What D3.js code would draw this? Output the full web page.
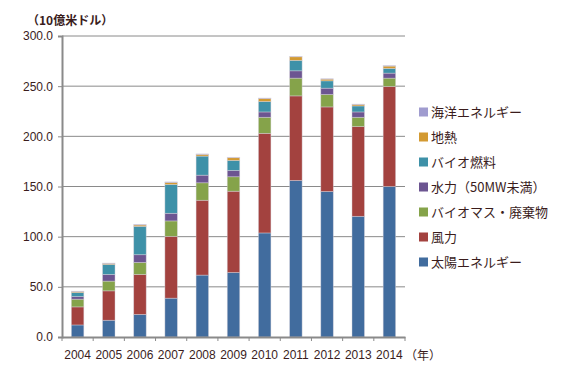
<!DOCTYPE html>
<html>
<head>
<meta charset="utf-8">
<script src="https://cdn.jsdelivr.net/npm/d3@7"></script>
<style>
  body { margin: 0; background: #fff; }
  text { font-family: "Liberation Sans", Arial, "Noto Sans CJK JP", sans-serif; fill: #3a1c1c; }
  .jp { font-family: "Noto Sans CJK JP", sans-serif; }
</style>
</head>
<body>
<div id="graphic"></div>
<script>
var years = ["2004","2005","2006","2007","2008","2009","2010","2011","2012","2013","2014"];

// values in 10億米ドル
var solar   = [12.0, 16.7, 22.5, 38.7, 61.7, 64.3, 103.7, 156.0, 145.0, 120.3, 150.0];
var wind    = [18.0, 29.3, 39.8, 61.6, 74.6, 81.0, 99.3, 84.3, 84.3, 89.4, 99.7];
var biomass = [7.7, 9.7, 12.0, 15.4, 17.4, 14.4, 16.0, 17.7, 12.4, 9.3, 8.3];
var hydro   = [2.6, 6.6, 7.7, 7.6, 7.6, 6.3, 5.3, 7.3, 6.3, 5.3, 5.0];
var biofuel = [4.0, 10.0, 28.3, 28.7, 19.0, 10.0, 10.4, 10.4, 7.3, 6.0, 4.7];
var geo     = [1.0, 1.0, 1.3, 2.0, 1.7, 2.7, 3.0, 3.6, 1.7, 1.4, 2.3];
var marine  = [0.4, 0.4, 0.6, 0.6, 0.5, 0.4, 0.5, 0.4, 0.4, 0.4, 0.5];

var seriesNames = ["太陽エネルギー","風力","バイオマス・廃棄物","水力（50MW未満）","バイオ燃料","地熱","海洋エネルギー"];
var seriesValues = [solar, wind, biomass, hydro, biofuel, geo, marine];
var colors = ["#416c9e","#a3423f","#85a34a","#6c5591","#3e91a8","#d39a32","#a09ccf"];
var yTicks = [0, 50, 100, 150, 200, 250, 300];

var width = 566, height = 373;
var plotLeft = 62, plotRight = 405, plotTop = 36, plotBottom = 337;

var svg = d3.select("#graphic").append("svg")
  .attr("width", width).attr("height", height);

var x = d3.scaleBand().domain(years).range([plotLeft, plotRight]).paddingInner(0.6).paddingOuter(0.3);
var xb = d3.scaleBand().domain(years).range([plotLeft, plotRight]);
var y = d3.scaleLinear().domain([0, 300]).range([plotBottom, plotTop]);

// table for the stack
var table = years.map(function(yr, i) {
  var row = {year: yr};
  seriesNames.forEach(function(n, k) { row[n] = seriesValues[k][i]; });
  return row;
});
var stacked = d3.stack().keys(seriesNames)(table);

// gridlines
svg.append("g").selectAll("line")
  .data(yTicks.slice(1))
  .enter().append("line")
  .attr("x1", plotLeft).attr("x2", plotRight)
  .attr("y1", function(d){ return y(d); }).attr("y2", function(d){ return y(d); })
  .attr("stroke", "#8a8a8a").attr("stroke-width", 1);

// bars
svg.append("g").selectAll("g")
  .data(stacked)
  .enter().append("g")
  .attr("fill", function(d, i){ return colors[i]; })
  .attr("stroke", "#d9d4dc")
  .attr("stroke-opacity", 0.6)
  .attr("stroke-width", 0.7)
  .selectAll("rect")
  .data(function(d){ return d; })
  .enter().append("rect")
  .attr("x", function(d){ return x(d.data.year); })
  .attr("width", x.bandwidth())
  .attr("y", function(d){ return y(d[1]); })
  .attr("height", function(d){ return y(d[0]) - y(d[1]); });

// y axis
var yAxis = svg.append("g")
  .attr("transform", "translate(" + plotLeft + ",0)")
  .call(d3.axisLeft(y).tickValues(yTicks).tickFormat(d3.format(".1f")).tickSize(4).tickPadding(5));
yAxis.select(".domain").attr("stroke", "#8a8a8a").attr("stroke-width", 2);
yAxis.selectAll(".tick line").attr("stroke", "#8a8a8a");
yAxis.selectAll("text").attr("font-size", 12).attr("fill", "#3a1c1c");

// x axis
var xAxis = svg.append("g")
  .attr("transform", "translate(0," + plotBottom + ")")
  .call(d3.axisBottom(xb).tickSize(0).tickPadding(13));
xAxis.select(".domain").attr("stroke", "#8a8a8a").attr("stroke-width", 2);
xAxis.selectAll("text").attr("font-size", 12).attr("fill", "#3a1c1c");
xAxis.selectAll(".boundary")
  .data(d3.range(years.length + 1))
  .enter().append("line")
  .attr("class", "boundary")
  .attr("x1", function(i){ return plotLeft + i * xb.step(); })
  .attr("x2", function(i){ return plotLeft + i * xb.step(); })
  .attr("y1", 0).attr("y2", 4)
  .attr("stroke", "#8a8a8a");

// unit labels
svg.append("text").attr("class", "jp")
  .attr("x", 27).attr("y", 25)
  .attr("font-size", 12).attr("font-weight", "bold")
  .text("（10億米ドル）");

svg.append("text").attr("class", "jp")
  .attr("x", 405).attr("y", 360)
  .attr("font-size", 12)
  .text("（年）");

// legend, top to bottom is reverse of stack order
var legend = svg.append("g").attr("transform", "translate(419,112)");
var legendItems = legend.selectAll("g")
  .data(seriesNames.slice().reverse())
  .enter().append("g")
  .attr("transform", function(d, i){ return "translate(0," + (i * 25) + ")"; });

legendItems.append("rect")
  .attr("x", 0).attr("y", -4.5).attr("width", 9).attr("height", 9)
  .attr("fill", function(d){ return colors[seriesNames.indexOf(d)]; });

legendItems.append("text").attr("class", "jp")
  .attr("x", 12).attr("y", 0).attr("dy", "0.35em")
  .attr("font-size", 13)
  .text(function(d){ return d; });
</script>
</body>
</html>
